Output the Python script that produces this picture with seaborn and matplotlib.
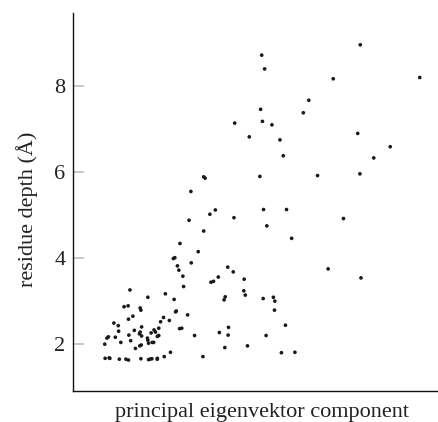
import matplotlib
matplotlib.use("Agg")
import matplotlib.pyplot as plt
import seaborn as sns
import pandas as pd

# principal eigenvector component (relative units, 0..1 across the axis)
px = [261.7, 264.7, 360.3, 333.3, 419.7, 308.7, 260.7, 303.3, 262.3, 272.0,
      249.3, 280.0, 357.7, 390.3, 283.3, 373.7, 260.0, 317.7, 360.0, 234.7,
      203.7, 205.0, 191.0, 263.7, 286.7, 343.3, 266.7, 291.7, 328.3, 244.3,
      361.0, 243.7, 245.3, 263.0, 273.3, 274.7, 274.3, 285.3, 266.0, 247.3,
      281.3, 295.0, 210.0, 215.3, 234.0, 189.0, 203.7, 180.0, 198.3, 173.5,
      175.0, 191.3, 177.5, 179.0, 227.7, 233.3, 183.0, 218.2, 211.0, 213.7,
      183.7, 130.0, 165.3, 147.7, 225.3, 224.0, 174.0, 124.0, 128.0, 140.0,
      141.0, 176.3, 175.7, 133.0, 128.5, 187.5, 163.5, 169.3, 160.5, 113.7,
      118.2, 141.8, 134.5, 158.7, 154.2, 155.5, 181.7, 179.7, 228.5, 118.7,
      140.2, 139.3, 141.5, 219.2, 115.2, 108.5, 106.8, 128.7, 194.5, 158.7,
      157.2, 228.3, 151.0, 147.3, 148.0, 130.5, 120.8, 104.8, 152.3, 153.8,
      148.5, 141.2, 139.8, 135.5, 224.7, 170.3, 164.3, 202.8, 105.0, 109.3,
      110.0, 119.5, 126.0, 128.5, 141.0, 148.7, 150.0, 151.8, 157.2, 157.3]
# residue depth read from pixel rows
py = [55.3, 69.0, 44.7, 79.0, 77.7, 100.3, 109.3, 113.0, 121.3, 124.7,
      137.0, 140.0, 133.3, 146.7, 155.7, 158.0, 176.3, 175.7, 174.0, 123.0,
      176.7, 178.3, 191.3, 209.7, 209.7, 218.7, 226.0, 238.3, 269.0, 279.3,
      278.0, 291.0, 295.0, 298.7, 297.3, 301.3, 310.3, 325.0, 335.7, 346.0,
      352.7, 352.3, 214.3, 210.0, 217.7, 220.3, 231.0, 243.7, 251.7, 258.7,
      257.7, 262.7, 266.0, 270.0, 267.0, 272.0, 276.3, 277.0, 282.0, 281.3,
      286.3, 290.0, 294.0, 297.3, 297.0, 300.0, 299.3, 306.7, 305.8, 308.0,
      310.2, 311.0, 312.0, 316.3, 319.2, 314.8, 317.3, 320.3, 321.8, 323.0,
      325.5, 326.8, 330.2, 328.2, 329.8, 332.3, 328.3, 328.7, 327.3, 331.3,
      332.0, 334.0, 336.0, 332.5, 337.2, 337.0, 338.0, 335.2, 335.7, 335.7,
      336.3, 335.2, 333.0, 338.3, 340.2, 340.5, 342.5, 344.3, 342.2, 342.5,
      343.2, 345.2, 345.8, 348.5, 347.7, 352.3, 356.8, 356.8, 358.5, 357.7,
      358.5, 359.2, 359.0, 360.0, 358.7, 359.5, 359.0, 358.7, 358.2, 359.3]

component = [round((p - 73.0) / 365.0, 3) for p in px]
depth = [round(2 + (343.7 - q) / 43.0, 2) for q in py]

yticks = [2, 4, 6, 8]
xlabel = "principal eigenvektor component"
ylabel = "residue depth (Å)"

df = pd.DataFrame({"component": component, "depth": depth})

sns.set_theme(style="ticks")
plt.rcParams["font.family"] = ["Liberation Serif", "DejaVu Serif"]

fig = plt.figure(figsize=(4.39, 4.22), dpi=100)
ax = fig.add_axes([73 / 439, 31 / 422, 365 / 439, 378 / 422])
sns.scatterplot(data=df, x="component", y="depth", ax=ax, s=7,
                color="#1a1a1a", edgecolor="none", linewidth=0)

ax.set_xlim(0, 1)
ax.set_ylim(0.9, 9.69)
ax.set_xticks([])
ax.set_yticks(yticks)
ax.set_yticklabels([str(t) for t in yticks], fontsize=16, color="#222222")
ax.tick_params(axis="y", direction="in", length=8, width=1.1,
               color="#bbbbbb", pad=5.5)
for side in ["top", "right"]:
    ax.spines[side].set_visible(False)
for side in ["left", "bottom"]:
    ax.spines[side].set_color("#111111")
    ax.spines[side].set_linewidth(1.0)

ax.set_xlabel(xlabel, fontsize=16, color="#222222")
ax.set_ylabel(ylabel, fontsize=16, color="#222222")
ax.xaxis.set_label_coords(0.518, -0.031)
ax.yaxis.set_label_coords(-0.096, 0.4815)

fig.savefig("out.png", dpi=100)
